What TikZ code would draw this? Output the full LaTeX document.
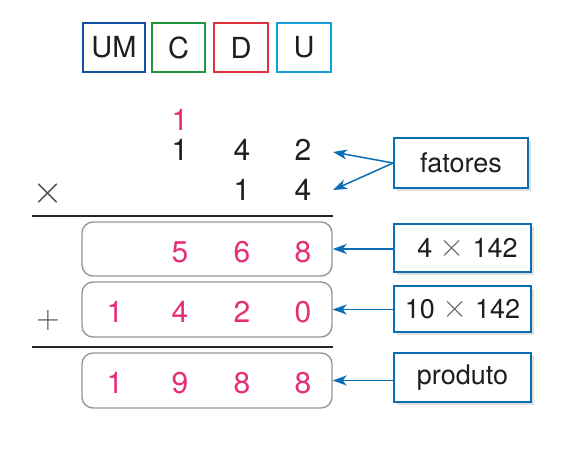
\documentclass[tikz,border=0pt]{standalone}
\usepackage{fontspec}
\setmainfont{TeX Gyre Heros}
\usetikzlibrary{arrows.meta,shadows}
\definecolor{cUM}{RGB}{20,80,160}
\definecolor{cC}{RGB}{30,150,60}
\definecolor{cD}{RGB}{225,50,60}
\definecolor{cU}{RGB}{20,160,215}
\definecolor{mag}{RGB}{230,45,120}
\definecolor{arrblue}{RGB}{10,110,180}
\definecolor{boxgray}{RGB}{150,150,150}
\definecolor{txt}{RGB}{30,30,30}
\newcommand{\tms}{\textcolor{black!60}{\raisebox{1pt}{\scalebox{1.3}{$\times$}}}}
\tikzset{
  hdr/.style={draw=#1, line width=1.8pt, minimum height=49pt, inner sep=0pt,
    font=\fontsize{29}{34}\selectfont, text=txt},
  dig/.style={inner sep=0pt, font=\fontsize{30}{36}\selectfont, text=txt},
  pdig/.style={dig, text=mag},
  sign/.style={inner sep=0pt, font=\fontsize{24}{28}\selectfont, text=black!70},
  rowbox/.style={draw=boxgray, line width=1.4pt, rounded corners=11pt,
    minimum width=250pt, inner sep=0pt},
  lab/.style={draw=arrblue, line width=1.8pt, fill=white, inner sep=0pt,
    font=\fontsize{27}{32}\selectfont, text=txt,
    drop shadow={shadow xshift=2.5pt, shadow yshift=-3pt, opacity=0.25}},
  arr/.style={draw=arrblue, line width=1.5pt, -{Stealth[length=14pt,width=10pt,inset=4pt]}},
  rule/.style={draw=black!85, line width=1.5pt}
}
\begin{document}
\begin{tikzpicture}[x=1pt,y=-1pt]
\useasboundingbox (0,0) rectangle (563,473);
% header
\node[hdr=cUM, minimum width=62pt] (hUM) at (114,47.5) {UM};
\node[hdr=cC, minimum width=53pt] (hC) at (178.5,47.5) {C};
\node[hdr=cD, minimum width=54pt] (hD) at (241,47.5) {D};
\node[hdr=cU, minimum width=54pt] (hU) at (304,47.5) {U};
% carry
\node[pdig] (carry) at (180,120) {1};
% factors
\node[dig] (a1) at (180,150) {1};
\node[dig] (a2) at (242,150) {4};
\node[dig] (a3) at (303,150) {2};
\node[dig] (b2) at (242,190) {1};
\node[dig] (b3) at (303,190) {4};
\node[sign] (times) at (48,194) {\scalebox{1.6}{$\times$}};
\coordinate (la) at (32,216);
\coordinate (lb) at (333,216);
\draw[rule] (la) -- (lb);
% partial products
\node[rowbox, minimum height=54pt] (r1) at (207,249) {};
\node[pdig] (p1b) at (180,252) {5};
\node[pdig] (p1c) at (242,252) {6};
\node[pdig] (p1d) at (303,252) {8};
\node[rowbox, minimum height=55pt] (r2) at (207,309.5) {};
\node[pdig] (p2a) at (115,312) {1};
\node[pdig] (p2b) at (180,312) {4};
\node[pdig] (p2c) at (242,312) {2};
\node[pdig] (p2d) at (303,312) {0};
\node[sign] (plus) at (48,320) {\scalebox{1.3}{$+$}};
\coordinate (lc) at (32,347);
\coordinate (ld) at (333,347);
\draw[rule] (lc) -- (ld);
\node[rowbox, minimum height=55pt] (r3) at (207,380.5) {};
\node[pdig] (p3a) at (115,383) {1};
\node[pdig] (p3b) at (180,383) {9};
\node[pdig] (p3c) at (242,383) {8};
\node[pdig] (p3d) at (303,383) {8};
% labels
\node[lab, minimum width=134pt, minimum height=50pt] (fat) at (461,163) {fatores};
\node[lab, minimum width=137pt, minimum height=48pt] (l1) at (462.5,248) {\hspace{10pt}4 \tms{} 142};
\node[lab, minimum width=137pt, minimum height=46pt] (l2) at (462.5,309) {10 \tms{} 142};
\node[lab, minimum width=137pt, minimum height=49pt] (l3) at (462.5,377.5) {produto};
% arrows
\coordinate (fa) at (333,152);
\coordinate (fb) at (333,190);
\draw[arr] (fat.west) -- (fa);
\draw[arr] (fat.west) -- (fb);
\draw[arr] (r1.east -| l1.west) -- (r1.east);
\draw[arr] (r2.east -| l2.west) -- (r2.east);
\draw[arr] (r3.east -| l3.west) -- (r3.east);
\end{tikzpicture}
\end{document}
